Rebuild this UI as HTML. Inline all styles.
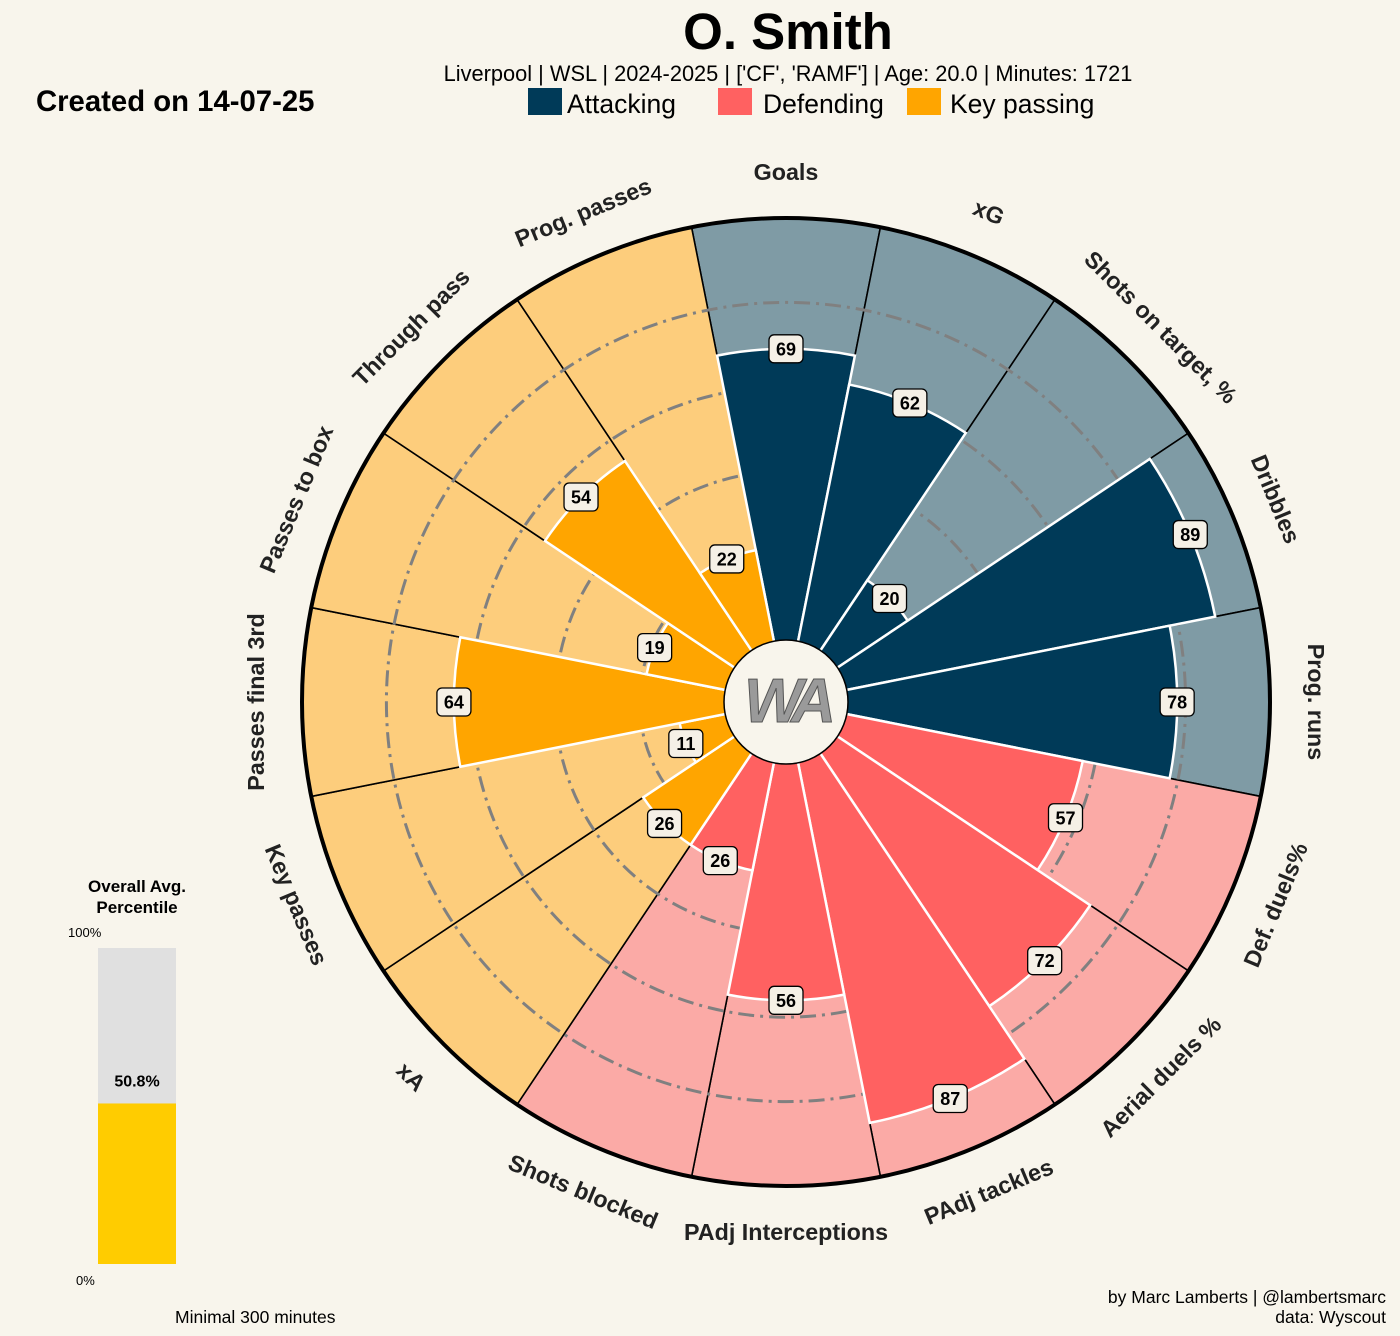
<!DOCTYPE html>
<html><head><meta charset="utf-8">
<style>
html,body{margin:0;padding:0;background:#f8f5ec;}
body{width:1400px;height:1336px;overflow:hidden;font-family:"Liberation Sans",sans-serif;}
</style></head>
<body>
<svg id="chart" width="1400" height="1336" xmlns="http://www.w3.org/2000/svg" style="position:absolute;left:0;top:0">
<rect width="1400" height="1336" fill="#f8f5ec"/>
<text x="788" y="49" text-anchor="middle" font-size="51" font-weight="bold">O. Smith</text>
<text x="788" y="81" text-anchor="middle" font-size="21.8">Liverpool | WSL | 2024-2025 | ['CF', 'RAMF'] | Age: 20.0 | Minutes: 1721</text>
<g>
<rect x="528" y="88" width="34" height="27" fill="#003a58"/>
<text x="567" y="113" font-size="26.5">Attacking</text>
<rect x="718" y="88" width="34" height="27" fill="#ff6161"/>
<text x="763" y="113" font-size="26.5">Defending</text>
<rect x="907" y="88" width="34" height="27" fill="#ffa500"/>
<text x="950" y="113" font-size="26.5">Key passing</text>
</g>
<text x="36" y="111" font-size="29.3" font-weight="bold">Created on 14-07-25</text>
<g id="pizza"></g>
<g>
<text x="137" y="892" text-anchor="middle" font-size="17" font-weight="bold">Overall Avg.</text>
<text x="137" y="913" text-anchor="middle" font-size="17" font-weight="bold">Percentile</text>
<text x="68" y="937" font-size="13">100%</text>
<text x="76" y="1285" font-size="13">0%</text>
<rect id="ovbg" x="98" y="948" width="78" height="316" fill="#e0e0e0"/>
<rect id="ovfill" x="98" y="1104" width="78" height="160" fill="#ffcc00"/>
<text id="ovtext" x="137" y="1087" text-anchor="middle" font-size="16" font-weight="bold">50.8%</text>
</g>
<text x="175" y="1323" font-size="17.5">Minimal 300 minutes</text>
<text x="1386" y="1303" text-anchor="end" font-size="17.5">by Marc Lamberts | @lambertsmarc</text>
<text x="1386" y="1323" text-anchor="end" font-size="17.5">data: Wyscout</text>
</svg>
<script>
const categories = ["Goals","xG","Shots on target, %","Dribbles","Prog. runs","Def. duels%","Aerial duels %","PAdj tackles","PAdj Interceptions","Shots blocked","xA","Key passes","Passes final 3rd","Passes to box","Through pass","Prog. passes"];
const values = [69,62,20,89,78,57,72,87,56,26,26,11,64,19,54,22];
const groups = ["att","att","att","att","att","def","def","def","def","def","pass","pass","pass","pass","pass","pass"];
const ringLevels = [20,40,60,80];
const overallValue = 50.8;

const NS="http://www.w3.org/2000/svg";
const cx=786, cy=702, R0=62, R=484;
const dark={att:"#003a58",def:"#ff6161",pass:"#ffa500"};
const light={att:"#7f9ba5",def:"#fbaaa6",pass:"#fdcd7c"};
const g=document.getElementById('pizza');
const rad=d=>d*Math.PI/180;
const rScale=v=>R0+v/100*(R-R0);
const pt=(r,a)=>[cx+r*Math.cos(rad(a)), cy-r*Math.sin(rad(a))];
function sector(r,a1,a2){
  const p1=pt(r,a1),p2=pt(r,a2);
  return `M${cx},${cy} L${p1[0]},${p1[1]} A${r},${r} 0 0 1 ${p2[0]},${p2[1]} Z`;
}
function mk(tag,attrs){const e=document.createElementNS(NS,tag);for(const k in attrs)e.setAttribute(k,attrs[k]);return e;}
const step=360/categories.length;
categories.forEach((c,i)=>{
  const a=90-step*i;
  const e=mk('path',{d:sector(R,a+step/2,a-step/2),fill:light[groups[i]],stroke:'#000','stroke-width':1.6});
  
  
  g.appendChild(e);
});
ringLevels.forEach(v=>{
  const e=mk('circle',{cx,cy,r:rScale(v),fill:'none',stroke:'#808080','stroke-width':3,'stroke-dasharray':'16 6 3 6'});
  
  
  g.appendChild(e);
});
categories.forEach((c,i)=>{
  const a=90-step*i;
  const e=mk('path',{d:sector(rScale(values[i]),a+step/2,a-step/2),fill:dark[groups[i]],stroke:'#fff','stroke-width':2.5});
  
  
  g.appendChild(e);
});
const oc=mk('circle',{cx,cy,r:R,fill:'none',stroke:'#000','stroke-width':4});


g.appendChild(oc);
const cc=mk('circle',{cx,cy,r:R0,fill:'#f8f5ec',stroke:'#000','stroke-width':1.5});


g.appendChild(cc);
const logo=mk('text',{x:cx,y:cy+20,'text-anchor':'middle','font-size':62,'font-weight':'bold','font-style':'italic',fill:'#9a9a9a',stroke:'#555','stroke-width':1,'letter-spacing':'-8'});
logo.textContent='WA';


g.appendChild(logo);
categories.forEach((c,i)=>{
  const a=90-step*i;
  const p=pt(rScale(values[i]),a);
  const r=mk('rect',{x:p[0]-17,y:p[1]-14,width:34,height:28,rx:5,fill:'#f5f0e6',stroke:'#000','stroke-width':1.3});
  
  
  g.appendChild(r);
  const t=mk('text',{x:p[0],y:p[1]+6.5,'text-anchor':'middle','font-size':18,'font-weight':'bold'});
  t.textContent=values[i];
  
  
  g.appendChild(t);
});
categories.forEach((c,i)=>{
  let a=90-step*i; let an=((a%360)+360)%360;
  const p=pt(530,a);
  const rot=(an<=180)?90-an:270-an;
  const t=mk('text',{x:p[0],y:p[1],'text-anchor':'middle','dominant-baseline':'central','font-size':23.3,'font-weight':'bold',transform:`rotate(${rot} ${p[0]} ${p[1]})`,fill:'#222'});
  t.textContent=c;
  
  
  g.appendChild(t);
});
const h=316*overallValue/100;
document.getElementById('ovfill').setAttribute('y',1264-h);
document.getElementById('ovfill').setAttribute('height',h);
document.getElementById('ovtext').setAttribute('y',1264-h-17);
document.getElementById('ovtext').textContent=overallValue.toFixed(1)+'%';
</script>
</body></html>
